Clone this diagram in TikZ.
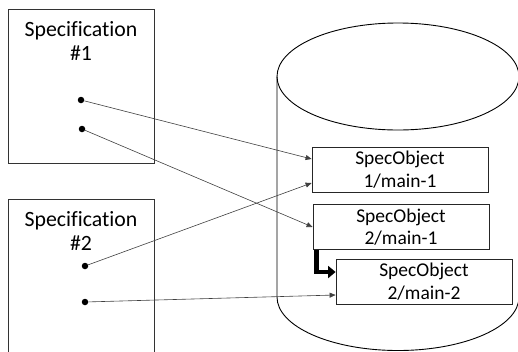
\documentclass[tikz,border=0pt]{standalone}
\usepackage{fontspec}
\setmainfont[Ligatures=CommonOff]{Carlito}
\usetikzlibrary{arrows.meta}
\begin{document}
\begin{tikzpicture}[x=1pt,y=-1pt,
  specbox/.style={draw=black!80, line width=0.9pt, fill=white, inner sep=0pt},
  spectext/.style={align=center, inner sep=0pt, font=\fontsize{21.8}{24.5}\selectfont},
  objbox/.style={draw=black!85, line width=0.8pt, fill=white, minimum width=176pt, minimum height=45pt, inner sep=0pt, align=center, font=\fontsize{19.5}{22.5}\selectfont},
  dot/.style={circle, fill=black, inner sep=0pt, minimum size=6.5pt},
  conn/.style={draw=black!75, line width=0.6pt, -{Triangle[length=6pt,width=5pt]}},
  thickconn/.style={draw=black, line width=4.8pt, -{Triangle[length=7.5pt,width=12pt]}}]
\useasboundingbox (0,0) rectangle (518,351);
\clip (0,0) rectangle (518,351);
% cylinder
\draw[black, line width=0.9pt] (398,76.5) ellipse [x radius=121pt, y radius=53.5pt];
\draw[black, line width=0.9pt] (277,76.5) -- (277,297) arc[start angle=180, end angle=360, x radius=121pt, y radius=53.5pt] -- (519,76.5);
% specification boxes
\node[specbox, minimum width=146pt, minimum height=154pt] (s1) at (81,86) {};
\node[specbox, minimum width=146pt, minimum height=190pt] (s2) at (81,294) {};
\node[spectext, anchor=north] (t1) at (81,21) {Specification\\\#1};
\node[spectext, anchor=north] (t2) at (81,211) {Specification\\\#2};
% dots
\node[dot] (a1) at (81,100) {};
\node[dot] (a2) at (82,129) {};
\node[dot] (b1) at (85,266) {};
\node[dot] (b2) at (85,302) {};
% spec objects
\node[objbox] (o1) at (400,169.5) {SpecObject\\1/main-1};
\node[objbox] (o2) at (401,227) {SpecObject\\2/main-1};
\node[objbox] (o3) at (424,281.5) {SpecObject\\2/main-2};
% connectors
\draw[conn] (a1) -- ([yshift=10.5pt]o1.west);
\draw[conn] (b1) -- ([yshift=-13.5pt]o1.west);
\draw[conn] (a2) -- (o2.west);
\draw[conn] (b2) -- ([yshift=-13.5pt]o3.west);
\draw[thickconn] ([xshift=4pt]o2.south west) |- ([yshift=9.5pt]o3.west);
\end{tikzpicture}
\end{document}
